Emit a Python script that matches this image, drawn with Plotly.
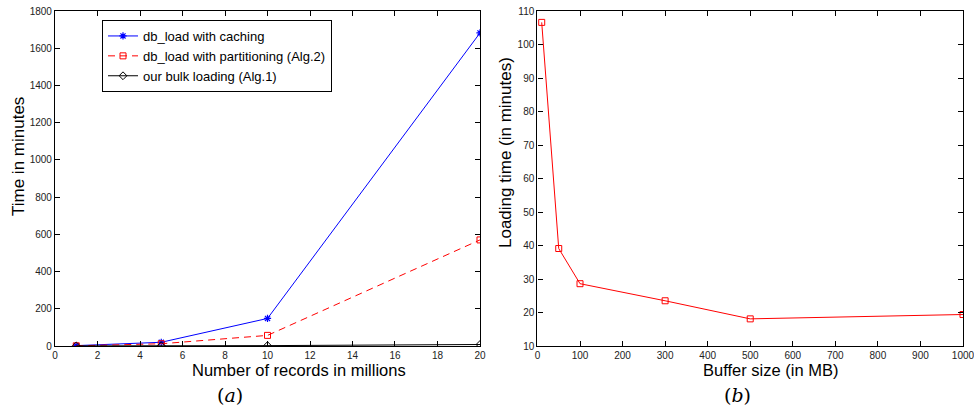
import plotly.graph_objects as go
from plotly.subplots import make_subplots

# Left panel data
records = [1, 5, 10, 20]
caching = [2, 20, 148, 1682]
partitioning = [1, 12, 57, 570]
bulk = [0.5, 1, 2, 8]

# Right panel data
buffer_mb = [10, 50, 100, 300, 500, 1000]
load_time = [106.6, 39.1, 28.6, 23.5, 18.1, 19.4]

fig = make_subplots(rows=1, cols=2)

fig.add_trace(go.Scatter(x=records, y=caching, mode="lines+markers",
                         name="db_load with caching",
                         line=dict(color="#0000ff", width=1),
                         marker=dict(symbol="asterisk-open", size=6, color="#0000ff",
                                     line=dict(width=1.2, color="#0000ff"))), row=1, col=1)
fig.add_trace(go.Scatter(x=records, y=partitioning, mode="lines+markers",
                         name="db_load with partitioning (Alg.2)",
                         line=dict(color="#ff0000", width=1, dash="7px,5px"),
                         marker=dict(symbol="square-open", size=6, color="#ff0000",
                                     line=dict(width=1, color="#ff0000"))), row=1, col=1)
fig.add_trace(go.Scatter(x=records, y=bulk, mode="lines+markers",
                         name="our bulk loading (Alg.1)",
                         line=dict(color="#000000", width=1),
                         marker=dict(symbol="diamond-open", size=6, color="#000000",
                                     line=dict(width=1, color="#000000"))), row=1, col=1)

fig.add_trace(go.Scatter(x=buffer_mb, y=load_time, mode="lines+markers",
                         showlegend=False,
                         line=dict(color="#ff0000", width=1),
                         marker=dict(symbol="square-open", size=6, color="#ff0000",
                                     line=dict(width=1, color="#ff0000"))), row=1, col=2)

axis_common = dict(showline=True, linecolor="black", linewidth=1.3, mirror="ticks",
                   ticks="inside", ticklen=5, tickcolor="black", showgrid=False,
                   zeroline=False, automargin=False, ticklabeloverflow="allow",
                   tickfont=dict(family="Liberation Sans, Arial", size=10, color="#222"))

fig.update_xaxes(**axis_common)
fig.update_yaxes(**axis_common)

fig.update_layout(
    width=974, height=412,
    margin=dict(l=0, r=0, t=0, b=0, autoexpand=False),
    paper_bgcolor="white", plot_bgcolor="white",
    font=dict(family="Liberation Sans, Arial", color="black"),
    xaxis=dict(domain=[0.0565, 0.4928], range=[0, 20], dtick=2),
    yaxis=dict(domain=[0.1602, 0.9733], range=[0, 1800], dtick=200),
    xaxis2=dict(domain=[0.5518, 0.9887], range=[0, 1000], dtick=100),
    yaxis2=dict(domain=[0.1602, 0.9733], range=[10, 110], dtick=10),
    legend=dict(x=102 / 974, y=1 - 20 / 412, xanchor="left", yanchor="top",
                bordercolor="black", borderwidth=1, bgcolor="white",
                font=dict(size=13), tracegroupgap=0, itemwidth=30),
    showlegend=True,
)

title_font = dict(family="Liberation Sans, Arial", size=17, color="black")
xtitle_font = dict(family="Liberation Sans, Arial", size=16.5, color="black")
ann = dict(xref="paper", yref="paper", showarrow=False, xanchor="center", yanchor="middle")
# Axis titles placed as annotations (pixel positions mapped to paper fractions)
fig.add_annotation(text="Number of records in millions", x=299 / 974, y=1 - 370 / 412,
                   font=xtitle_font, **ann)
fig.add_annotation(text="Buffer size (in MB)", x=770 / 974, y=1 - 370 / 412,
                   font=xtitle_font, **ann)
fig.add_annotation(text="Time in minutes", x=19 / 974, y=1 - 157 / 412, textangle=-90,
                   font=title_font, **ann)
fig.add_annotation(text="Loading time (in minutes)", x=506 / 974, y=1 - 153 / 412, textangle=-90,
                   font=title_font, **ann)

fig.add_annotation(text="(<i>a</i>)", x=230 / 974, y=1 - 395 / 412,
                   font=dict(family="DejaVu Serif", size=19, color="black"), **ann)
fig.add_annotation(text="(<i>b</i>)", x=737 / 974, y=1 - 395 / 412,
                   font=dict(family="DejaVu Serif", size=19, color="black"), **ann)

fig.write_html("out.html", config={"displayModeBar": False},
               post_script="document.body.style.margin='0';document.body.style.overflow='hidden';")
